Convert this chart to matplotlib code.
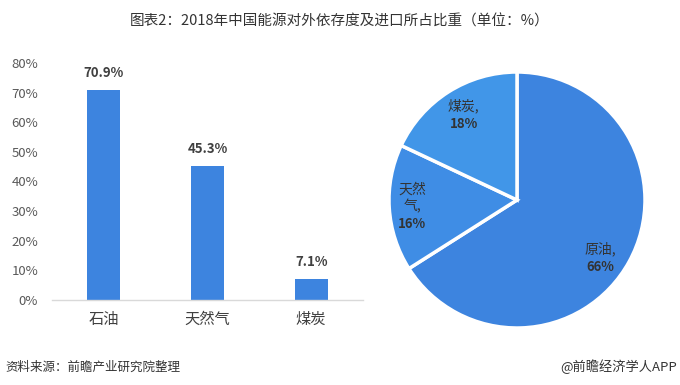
import matplotlib
matplotlib.use("Agg")
import matplotlib.pyplot as plt
import numpy as np

plt.rcParams['font.family'] = ['Noto Sans CJK SC', 'DejaVu Sans']

title = "图表2：2018年中国能源对外依存度及进口所占比重（单位：%）"
bar_cats = ["石油", "天然气", "煤炭"]
bar_vals = [70.9, 45.3, 7.1]
yticks = [0, 10, 20, 30, 40, 50, 60, 70, 80]

pie_cats = ["原油", "天然\n气", "煤炭"]
pie_vals = [66, 16, 18]
pie_colors = ["#3d84df", "#3f8de5", "#4196e8"]

source = "资料来源：前瞻产业研究院整理"
brand = "@前瞻经济学人APP"

fig = plt.figure(figsize=(6.8, 3.85), dpi=100)
fig.patch.set_facecolor("white")

# Bar chart
ax = fig.add_axes([52/680, 1-300/385, (363-52)/680, (300-63)/385])
x = np.arange(len(bar_cats))
bars = ax.bar(x, bar_vals, width=0.32, color="#3d84df")
ax.set_xlim(-0.5, 2.5)
ax.set_ylim(0, 80)
ax.set_yticks(yticks)
ax.set_yticklabels([f"{v}%" for v in yticks], fontsize=9.5, color="#595959")
ax.set_xticks(x)
ax.set_xticklabels(bar_cats, fontsize=11, color="#404040")
ax.tick_params(axis='both', length=0)
ax.tick_params(axis='x', pad=8)
ax.tick_params(axis='y', pad=10)
for s in ["top", "right", "left"]:
    ax.spines[s].set_visible(False)
ax.spines["bottom"].set_color("#d9d9d9")
ax.spines["bottom"].set_linewidth(1)
for b, v in zip(bars, bar_vals):
    ax.annotate(f"{v}%", (b.get_x() + b.get_width()/2, v), xytext=(0, 7),
                textcoords="offset points", ha="center", va="bottom",
                fontsize=9.5, color="#404040", fontweight="semibold")

# Pie chart
pax = fig.add_axes([(517-128)/680, 1-(200+128)/385, 256/680, 256/385])
wedges, _ = pax.pie(pie_vals, colors=pie_colors, startangle=90, counterclock=False,
                    wedgeprops=dict(edgecolor="white", linewidth=2.5))
pax.set_xlim(-1.0, 1.0)
pax.set_ylim(-1.0, 1.0)
pax.set_aspect("equal")
dists = [0.8, 0.82, 0.78]
nudges = [(-0.05, -0.075), (0.0, -0.07), (0.0, 0.0)]
for w, name, v, d, (nx, ny) in zip(wedges, pie_cats, pie_vals, dists, nudges):
    ang = np.deg2rad((w.theta1 + w.theta2) / 2)
    cx, cy = d * np.cos(ang) + nx, d * np.sin(ang) + ny
    pax.text(cx, cy + 0.02, name + ",", ha="center", va="bottom", fontsize=10,
             color="#333333", linespacing=1.2)
    pax.text(cx, cy - 0.01, f"{v}%", ha="center", va="top", fontsize=9.5,
             color="#333333", fontweight="semibold")

# Title and footer
fig.text(0.5, 1-22/385, title, ha="center", va="center", fontsize=10.5, color="#333333")
fig.text(5/680, 1-367/385, source, ha="left", va="center", fontsize=9, color="#333333",
         style="italic")
fig.text(677/680, 1-367/385, brand, ha="right", va="center", fontsize=9.5, color="#333333")

fig.savefig("out.png", dpi=100, facecolor="white")
